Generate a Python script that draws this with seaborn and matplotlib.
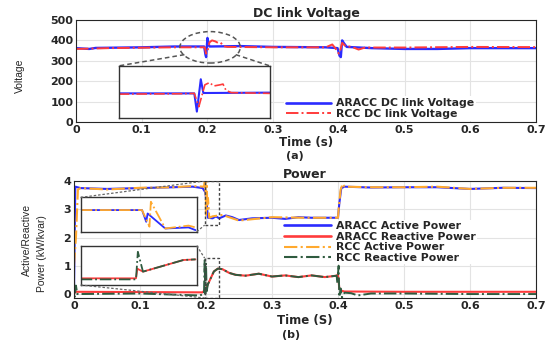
import numpy as np
import pandas as pd
import matplotlib
matplotlib.use("Agg")
import matplotlib.pyplot as plt
import seaborn as sns
from matplotlib.patches import Ellipse, Rectangle

# ---- (a) DC link voltage ----
t_aracc_v = [0.0, 0.02, 0.03, 0.1, 0.15, 0.195, 0.197, 0.198, 0.2, 0.201, 0.203, 0.25, 0.3,
             0.38, 0.398, 0.401, 0.403, 0.405, 0.408, 0.412, 0.45, 0.5, 0.55, 0.6, 0.7]
v_aracc = [362, 358, 363, 366, 370, 370, 330, 318, 412, 395, 370, 372, 368,
           366, 362, 325, 318, 400, 385, 368, 362, 358, 358, 362, 362]

t_rcc_v = [0.0, 0.05, 0.1, 0.15, 0.196, 0.198, 0.2, 0.203, 0.207, 0.212, 0.216, 0.22, 0.224,
           0.23, 0.3, 0.38, 0.39, 0.395, 0.4, 0.402, 0.405, 0.41, 0.42, 0.43, 0.44, 0.5, 0.6, 0.7]
v_rcc = [358, 362, 364, 366, 366, 335, 345, 390, 400, 395, 388, 390, 372,
         368, 366, 366, 380, 360, 335, 350, 388, 372, 368, 355, 365, 365, 368, 367]

# zoomed inset around 0.2 s
t_in_aracc_v = [0.15, 0.2, 0.2017, 0.2043, 0.206, 0.25]
v_in_aracc = [366, 366, 317, 404, 367, 368]
t_in_rcc_v = [0.15, 0.19, 0.2, 0.203, 0.207, 0.21, 0.213, 0.217, 0.219, 0.221, 0.2245, 0.25]
v_in_rcc = [364, 365, 366, 330, 389, 395, 386, 389, 391, 374, 368, 366]

# ---- (b) power ----
t_aracc_p = [0.0, 0.002, 0.01, 0.05, 0.1, 0.15, 0.18, 0.195, 0.199, 0.201, 0.203, 0.21, 0.215,
             0.22, 0.23, 0.24, 0.25, 0.27, 0.3, 0.32, 0.34, 0.36, 0.38, 0.4, 0.402, 0.405,
             0.41, 0.45, 0.5, 0.55, 0.6, 0.65, 0.7]
p_aracc = [0.0, 3.8, 3.75, 3.72, 3.75, 3.78, 3.8, 3.75, 3.6, 3.2, 2.7, 2.68, 2.75,
           2.68, 2.78, 2.72, 2.62, 2.68, 2.7, 2.66, 2.72, 2.7, 2.7, 2.7, 3.2, 3.75,
           3.8, 3.77, 3.78, 3.78, 3.72, 3.76, 3.75]

t_rcc_p = [0.0, 0.003, 0.006, 0.01, 0.05, 0.1, 0.15, 0.18, 0.197, 0.199, 0.2, 0.201, 0.202,
           0.203, 0.205, 0.21, 0.225, 0.25, 0.3, 0.35, 0.4, 0.401, 0.404, 0.407, 0.41,
           0.45, 0.5, 0.55, 0.6, 0.65, 0.7]
p_rcc = [1.0, 2.0, 3.7, 3.75, 3.7, 3.76, 3.78, 3.82, 3.8, 4.2, 2.8, 4.2, 3.0,
         3.4, 2.7, 2.75, 2.8, 2.6, 2.72, 2.7, 2.7, 3.0, 3.7, 3.9, 3.8,
         3.78, 3.78, 3.8, 3.72, 3.76, 3.76]

t_aracc_q = [0.0, 0.002, 0.1, 0.195, 0.2, 0.203, 0.207, 0.212, 0.218, 0.225, 0.235, 0.245,
             0.26, 0.28, 0.3, 0.32, 0.34, 0.36, 0.38, 0.398, 0.4, 0.402, 0.405, 0.41, 0.5, 0.7]
q_aracc = [0.0, 0.08, 0.07, 0.06, 0.2, 0.35, 0.55, 0.8, 0.9, 0.88, 0.75, 0.68,
           0.65, 0.72, 0.62, 0.66, 0.6, 0.66, 0.6, 0.65, 0.7, 0.2, 0.12, 0.09, 0.08, 0.08]

t_rcc_q = [0.0, 0.001, 0.003, 0.005, 0.1, 0.19, 0.197, 0.198, 0.199, 0.2, 0.201, 0.203, 0.207,
           0.212, 0.218, 0.225, 0.235, 0.245, 0.26, 0.28, 0.3, 0.32, 0.34, 0.36, 0.38, 0.398,
           0.399, 0.401, 0.402, 0.404, 0.406, 0.41, 0.42, 0.43, 0.45, 0.5, 0.6, 0.7]
q_rcc = [0.5, -0.1, 0.3, 0.0, 0.02, -0.05, 0.0, 1.2, 0.0, 1.1, 0.1, 0.35, 0.55,
         0.8, 0.9, 0.88, 0.75, 0.68, 0.65, 0.72, 0.62, 0.66, 0.6, 0.66, 0.6, 0.65,
         0.4, 1.0, -0.1, 0.2, -0.12, 0.05, 0.03, -0.05, 0.02, 0.02, 0.0, 0.0]

# zoomed insets around 0.2 s
t_in_aracc_p = [0.19, 0.2032, 0.2041, 0.2044, 0.2082, 0.2132, 0.2147]
p_in_aracc = [3.75, 3.75, 3.10, 3.56, 2.73, 2.79, 2.64]
t_in_rcc_p = [0.19, 0.2032, 0.2048, 0.2051, 0.2082, 0.2132, 0.2147]
p_in_rcc = [3.75, 3.75, 2.83, 4.21, 2.73, 2.89, 2.79]

t_in_aracc_q = [0.19, 0.2019, 0.2022, 0.2034, 0.2121, 0.2147]
q_in_aracc = [0.087, 0.087, 0.356, 0.274, 0.60, 0.618]
t_in_rcc_q = [0.19, 0.2019, 0.2023, 0.2034, 0.2121, 0.2147]
q_in_rcc = [0.058, 0.058, 0.83, 0.274, 0.60, 0.618]

time_ticks = ["0", "0.1", "0.2", "0.3", "0.4", "0.5", "0.6", "0.7"]

C_BLUE = "#2b2bff"
C_RED = "#ff3b3b"
C_ORANGE = "#ffa92e"
C_GREEN = "#2f5b3f"
GRID = "#e3e3e3"

sns.set_style("white")
plt.rcParams["font.family"] = ["DejaVu Sans"]
NARROW = ["Liberation Sans", "DejaVu Sans"]


def draw(ax, t, y, color, ls, lw):
    df = pd.DataFrame({"t": t, "y": y})
    sns.lineplot(data=df, x="t", y="y", ax=ax, color=color, linestyle=ls, lw=lw,
                 estimator=None, sort=False, legend=False)


def matlab_axes(ax):
    for s in ax.spines.values():
        s.set_color("#262626")
        s.set_linewidth(0.8)
    ax.tick_params(direction="in", length=2.5, width=0.6, labelsize=8, pad=2)
    for lab in ax.get_xticklabels() + ax.get_yticklabels():
        lab.set_fontweight("bold")
    ax.set_xlabel("")
    ax.set_ylabel("")


def inset_style(ax):
    for s in ax.spines.values():
        s.set_color("#333333")
        s.set_linewidth(1.0)
    ax.tick_params(direction="in", length=2, width=0.5, labelbottom=False, labelleft=False)
    ax.set_xlabel("")
    ax.set_ylabel("")


fig = plt.figure(figsize=(5.52, 3.45), dpi=100)
ax1 = fig.add_axes([0.1377, 0.6464, 0.8333, 0.2957])
ax2 = fig.add_axes([0.134, 0.1362, 0.837, 0.3391])

# ---------- (a) ----------
draw(ax1, t_aracc_v, v_aracc, C_BLUE, "-", 1.7)
draw(ax1, t_rcc_v, v_rcc, C_RED, "-.", 1.4)
ax1.set_xlim(0, 0.7)
ax1.set_ylim(0, 500)
ax1.set_xticks(np.arange(0, 0.71, 0.1))
ax1.set_xticklabels(time_ticks)
ax1.set_yticks(range(0, 501, 100))
ax1.grid(True, color=GRID, lw=0.8)
matlab_axes(ax1)
ax1.set_title("DC link Voltage", fontsize=9, fontweight="bold", pad=2)
ax1.set_xlabel("Time (s)", fontsize=8.5, fontweight="bold", va="center")
ax1.xaxis.set_label_coords(0.5, -0.2)
fig.text(20 / 552, 1 - 76 / 345, "Voltage", rotation=90, fontsize=7.5, family=NARROW,
         ha="center", va="center")

ax1.add_patch(Ellipse((0.204, 366), 0.092, 154, fill=False, ls=(0, (3, 2)),
                      lw=1.1, edgecolor="#555555", zorder=5))
ins1 = ax1.inset_axes([0.065, 20, 0.23, 255], transform=ax1.transData)
ins1.set_facecolor("white")
draw(ins1, t_in_aracc_v, v_in_aracc, C_BLUE, "-", 1.5)
draw(ins1, t_in_rcc_v, v_in_rcc, C_RED, "-.", 1.2)
ins1.set_xlim(0.15, 0.25)
ins1.set_ylim(300, 440)
ins1.set_xticks([0.175, 0.2, 0.225])
ins1.set_yticks([340, 380, 420])
inset_style(ins1)
ax1.plot([0.165, 0.065], [330, 275], color="#555555", ls=(0, (3, 2)), lw=1.1, zorder=5)
ax1.plot([0.243, 0.295], [330, 275], color="#555555", ls=(0, (3, 2)), lw=1.1, zorder=5)

h1 = [plt.Line2D([], [], color=C_BLUE, lw=1.9, ls="-"),
      plt.Line2D([], [], color=C_RED, lw=1.4, ls="-.")]
ax1.legend(h1, ["ARACC DC link Voltage", "RCC DC link Voltage"], loc="lower left",
           bbox_to_anchor=(0.44, -0.045), prop={"size": 7.8, "weight": "bold"},
           handlelength=4.2, handletextpad=0.4, labelspacing=0.05, borderpad=0.2,
           frameon=True, framealpha=1, edgecolor="none", fancybox=False)

# ---------- (b) ----------
draw(ax2, t_aracc_p, p_aracc, C_BLUE, "-", 1.5)
draw(ax2, t_aracc_q, q_aracc, C_RED, "-", 1.5)
draw(ax2, t_rcc_p, p_rcc, C_ORANGE, "-.", 1.5)
draw(ax2, t_rcc_q, q_rcc, C_GREEN, "-.", 1.4)
ax2.set_xlim(0, 0.7)
ax2.set_ylim(-0.14, 4.0)
ax2.set_xticks(np.arange(0, 0.71, 0.1))
ax2.set_xticklabels(time_ticks)
ax2.set_yticks(range(0, 5))
ax2.grid(True, color=GRID, lw=0.8)
matlab_axes(ax2)
ax2.set_title("Power", fontsize=9, fontweight="bold", pad=2)
ax2.set_xlabel("Time (S)", fontsize=8.5, fontweight="bold", va="center")
ax2.xaxis.set_label_coords(0.5, -0.19)
fig.text(27 / 552, 1 - 240 / 345, "Active/Reactive", rotation=90, fontsize=7.5,
         family=NARROW, ha="center", va="center")
fig.text(42 / 552, 1 - 254 / 345, "Power (kW/kvar)", rotation=90, fontsize=7.5,
         family=NARROW, ha="center", va="center")

box_kw = dict(fill=False, ls=(0, (2, 1.5)), lw=1.0, edgecolor="#444444", zorder=6)
ax2.add_patch(Rectangle((0.198, 2.44), 0.022, 1.56, **box_kw))
ax2.add_patch(Rectangle((0.198, -0.14), 0.022, 1.41, **box_kw))

ins2 = ax2.inset_axes([0.0102, 2.205, 0.176, 1.215], transform=ax2.transData)
ins2.set_facecolor("white")
draw(ins2, t_in_aracc_p, p_in_aracc, C_BLUE, "-", 1.3)
draw(ins2, t_in_rcc_p, p_in_rcc, C_ORANGE, "-.", 1.3)
ins2.set_xlim(0.19, 0.215)
ins2.set_ylim(2.55, 4.45)
ins2.set_xticks([0.1975, 0.2025, 0.2075, 0.2125])
ins2.set_yticks([3.0, 3.5, 4.0])
inset_style(ins2)

ins3 = ax2.inset_axes([0.0102, 0.32, 0.176, 1.39], transform=ax2.transData)
ins3.set_facecolor("white")
draw(ins3, t_in_aracc_q, q_in_aracc, C_RED, "-", 1.3)
draw(ins3, t_in_rcc_q, q_in_rcc, C_GREEN, "-.", 1.3)
ins3.set_xlim(0.19, 0.215)
ins3.set_ylim(-0.1, 1.0)
ins3.set_xticks([0.1975, 0.2025, 0.2075, 0.2125])
ins3.set_yticks([0.2, 0.5, 0.8])
inset_style(ins3)

con_kw = dict(color="#666666", ls=(0, (2, 1.5)), lw=0.9, zorder=6)
ax2.plot([0.0102, 0.198], [3.42, 4.0], **con_kw)
ax2.plot([0.186, 0.198], [2.205, 2.44], **con_kw)
ax2.plot([0.186, 0.198], [1.71, 1.27], **con_kw)
ax2.plot([0.0102, 0.198], [0.32, -0.14], **con_kw)

h2 = [plt.Line2D([], [], color=C_BLUE, lw=1.9, ls="-"),
      plt.Line2D([], [], color=C_RED, lw=1.9, ls="-"),
      plt.Line2D([], [], color=C_ORANGE, lw=1.5, ls="-."),
      plt.Line2D([], [], color=C_GREEN, lw=1.5, ls="-.")]
ax2.legend(h2, ["ARACC Active Power", "ARACC Reactive Power", "RCC Active Power",
                "RCC Reactive Power"], loc="lower left", bbox_to_anchor=(0.44, 0.245),
           prop={"size": 7.8, "weight": "bold"}, handlelength=4.4, handletextpad=0.4,
           labelspacing=0.05, borderpad=0.1, frameon=True, framealpha=1,
           edgecolor="none", fancybox=False)

fig.text(0.535, 0.548, "(a)", fontsize=8, fontweight="bold", ha="center", va="center")
fig.text(0.527, 0.03, "(b)", fontsize=8, fontweight="bold", ha="center", va="center")

fig.savefig("out.png", dpi=100)
